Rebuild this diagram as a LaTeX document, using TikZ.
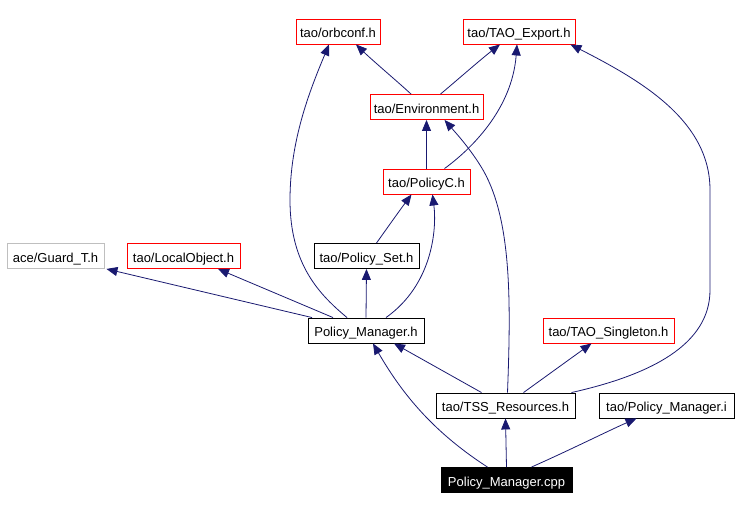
\documentclass[tikz,border=0pt]{standalone}
\usepackage{fontspec}
\setmainfont{Liberation Sans}
\usetikzlibrary{arrows.meta}
\definecolor{edgeblue}{HTML}{191970}
\definecolor{redborder}{HTML}{FF0000}
\definecolor{greyborder}{HTML}{BFBFBF}
\begin{document}
\begin{tikzpicture}[x=1pt,y=-1pt,
  box/.style={draw=black,line width=0.9pt,minimum height=25pt,inner sep=0pt,text height=12.5pt,text depth=0pt,font=\fontsize{13}{15}\selectfont,fill=white},
  redbox/.style={box,draw=redborder},
  greybox/.style={box,draw=greyborder},
  mainbox/.style={box,fill=black,text=white},
  dep/.style={draw=edgeblue,line width=0.8pt,-{Triangle[length=11pt,width=9pt]}}]
\useasboundingbox (0,0) rectangle (739,510);
\node[redbox,minimum width=84pt] (orbconf) at (338,31.5) {tao/orbconf.h};
\node[redbox,minimum width=112pt] (export) at (519,31.5) {tao/TAO\_Export.h};
\node[redbox,minimum width=113pt] (env) at (426.5,107) {tao/Environment.h};
\node[redbox,minimum width=87pt] (policyc) at (426.5,181.5) {tao/PolicyC.h};
\node[greybox,minimum width=97pt] (guard) at (55.5,256) {ace/Guard\_T.h};
\node[redbox,minimum width=113pt] (localobj) at (183.5,256) {tao/LocalObject.h};
\node[box,minimum width=105pt] (pset) at (366.5,256) {tao/Policy\_Set.h};
\node[box,minimum width=116pt] (pmh) at (366,330.5) {Policy\_Manager.h};
\node[redbox,minimum width=131pt] (singleton) at (608.5,330.5) {tao/TAO\_Singleton.h};
\node[box,minimum width=139pt] (tss) at (505.5,405.5) {tao/TSS\_Resources.h};
\node[box,minimum width=135pt] (pmi) at (666.5,405.5) {tao/Policy\_Manager.i};
\node[mainbox,minimum width=131pt] (cpp) at (506.5,480) {Policy\_Manager.cpp};

\draw[dep] ([xshift=-15.5pt]env.north) .. controls (398,82) and (372,60) .. ([xshift=18pt]orbconf.south);
\draw[dep] ([xshift=14pt]env.north) .. controls (455,82) and (480,60) .. ([xshift=-19pt]export.south);
\draw[dep] (policyc.north) -- (env.south);
\draw[dep] ([xshift=18pt]policyc.north) .. controls (470,150) and (512,110) .. ([xshift=-2pt]export.south);
\draw[dep] ([xshift=10pt]pset.north) .. controls (390,224) and (400,210) .. ([xshift=-15pt]policyc.south);
\draw[dep] ([xshift=20pt]pmh.north) .. controls (432,285) and (437,230) .. ([xshift=6pt]policyc.south);
\draw[dep] (pmh.north) -- (pset.south);
\draw[dep] ([xshift=-54pt]pmh.north) -- ([xshift=2pt]guard.south east);
\draw[dep] ([xshift=-33pt]pmh.north) -- ([xshift=34.5pt]localobj.south);
\draw[dep] ([xshift=-19pt]pmh.north) .. controls (320,295) and (290,265) .. (290,200) .. controls (290,140) and (310,90) .. ([xshift=-9pt]orbconf.south);
\draw[dep] ([xshift=2pt]tss.north) .. controls (511,300) and (512,215) .. (480,165) .. controls (468,146) and (455,132) .. ([xshift=18pt]env.south);
\draw[dep] ([xshift=-24pt]tss.north) -- ([xshift=28pt]pmh.south);
\draw[dep] ([xshift=18pt]tss.north) -- ([xshift=-17pt]singleton.south);
\draw[dep] ([xshift=-4pt]tss.north east) .. controls (650,375) and (710,345) .. (710,290) -- (710,190) .. controls (710,120) and (640,80) .. ([xshift=-5pt]export.south east);
\draw[dep] ([xshift=-19pt]cpp.north) .. controls (430,430) and (400,390) .. ([xshift=7pt]pmh.south);
\draw[dep] (cpp.north) -- (tss.south);
\draw[dep] ([xshift=25pt]cpp.north) .. controls (570,450) and (610,430) .. ([xshift=-30pt]pmi.south);
\end{tikzpicture}
\end{document}
